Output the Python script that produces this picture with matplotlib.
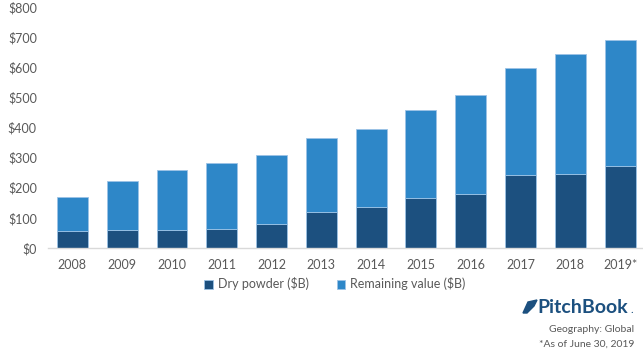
import matplotlib
matplotlib.use("Agg")
import matplotlib.pyplot as plt
from matplotlib.patches import Polygon

years = ["2008", "2009", "2010", "2011", "2012", "2013", "2014", "2015", "2016", "2017", "2018", "2019*"]
dry_powder = [55, 59, 59, 62, 79, 121, 137, 165, 179, 241, 245, 272]
total_value = [168, 222, 258, 281, 309, 364, 394, 457, 507, 597, 645, 689]
remaining_value = [t - d for t, d in zip(total_value, dry_powder)]
yticks = [0, 100, 200, 300, 400, 500, 600, 700, 800]

DARK = "#1c507f"
LIGHT = "#2e87c8"
TEXT = "#595959"
plt.rcParams['font.family'] = ['Lato', 'DejaVu Sans']

W, H = 643, 359
fig = plt.figure(figsize=(W / 100, H / 100), dpi=100)
ax = fig.add_axes([48 / W, (H - 248) / H, (643 - 48) / W, (248 - 7) / H])

x = list(range(len(years)))
ax.bar(x, dry_powder, width=0.62, color=DARK, edgecolor="#9cc3e6", linewidth=0.6, label="Dry powder (\\$B)")
ax.bar(x, remaining_value, bottom=dry_powder, width=0.62, color=LIGHT, edgecolor="#9cc3e6",
       linewidth=0.6, label="Remaining value (\\$B)")

ax.set_xlim(-0.49, 11.46)
ax.set_ylim(0, 800)
ax.set_yticks(yticks)
ax.set_yticklabels([f"\\${v}" for v in yticks])
ax.set_xticks(x)
ax.set_xticklabels(years)
ax.tick_params(axis="both", length=0, labelsize=9, colors=TEXT)
ax.tick_params(axis="y", pad=8)
ax.tick_params(axis="x", pad=8)
for s in ["top", "right", "left"]:
    ax.spines[s].set_visible(False)
ax.spines["bottom"].set_color("#d9d9d9")
ax.spines["bottom"].set_linewidth(1.0)

leg = fig.legend(loc="center", bbox_to_anchor=(335 / W, (H - 284) / H), ncol=2, frameon=False,
                 fontsize=9, handlelength=0.7, handleheight=0.7, handletextpad=0.4, columnspacing=2.2)
for t in leg.get_texts():
    t.set_color(TEXT)

# PitchBook logo
fig.text(628 / W, (H - 313) / H, "PitchBook", ha="right", va="baseline", fontsize=14,
         fontweight="bold", color=DARK)
fig.text(633 / W, (H - 313) / H, ".", ha="right", va="baseline", fontsize=8, color=DARK)
leaf = Polygon([[523 / W, (H - 313) / H], [528 / W, (H - 302) / H], [537 / W, (H - 300) / H],
                [534 / W, (H - 306) / H], [527 / W, (H - 313) / H]], closed=True,
               transform=fig.transFigure, color=DARK)
fig.patches.append(leaf)

fig.text(634 / W, (H - 329) / H, "Geography: Global", ha="right", va="center", fontsize=7.5, color=TEXT)
fig.text(634 / W, (H - 344) / H, "*As of June 30, 2019", ha="right", va="center", fontsize=7.5, color=TEXT)

fig.savefig("out.png", dpi=100)
